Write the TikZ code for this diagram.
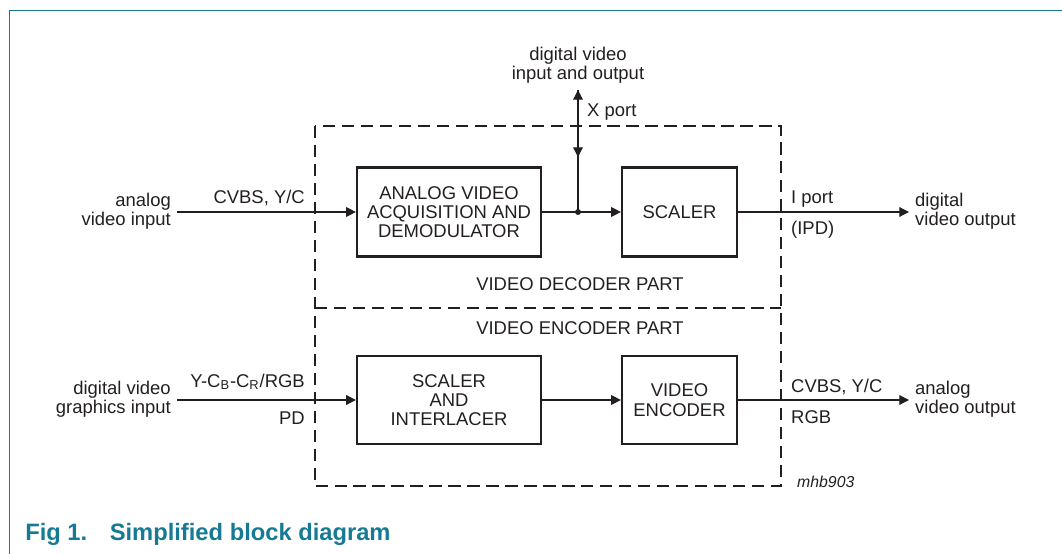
\documentclass[tikz,border=0pt]{standalone}
\usepackage{fontspec}
\setmainfont{Liberation Sans}
\usetikzlibrary{arrows.meta}
\definecolor{figteal}{RGB}{22,122,148}
\definecolor{ink}{RGB}{35,31,32}

\begin{document}
\begin{tikzpicture}[x=0.02cm,y=-0.02cm,
  every node/.style={text=ink},
  font=\fontsize{10.5}{11}\selectfont,
  block/.style={draw=ink,line width=1.3pt,align=center,inner sep=0pt},
  sig/.style={draw=ink,line width=0.7pt,-{Triangle[length=5.5pt,width=5.5pt]}},
  partbox/.style={draw=ink,line width=1.6pt,dash pattern=on 7pt off 3.8pt}]
\useasboundingbox (0,0) rectangle (1062,554);
\draw[figteal,line width=0.7pt] (9.5,554) -- (9.5,10.5) -- (1062,10.5);

% decoder / encoder parts
\draw[partbox] (315,126) rectangle (781,486);
\draw[partbox] (315,308) -- (781,308);
\node (decpart) at (580,284) {VIDEO DECODER PART};
\node (encpart) at (580,328) {VIDEO ENCODER PART};

% blocks
\node[block,minimum width=3.68cm,minimum height=1.78cm] (acq) at (449,212) {ANALOG VIDEO\\ACQUISITION AND\\DEMODULATOR};
\node[block,minimum width=2.3cm,minimum height=1.78cm] (scl) at (679.5,212) {SCALER};
\node[block,minimum width=3.68cm,minimum height=1.76cm] (sint) at (449,400) {SCALER\\AND\\INTERLACER};
\node[block,minimum width=2.3cm,minimum height=1.76cm] (venc) at (679.5,400) {VIDEO\\ENCODER};

% upper path
\node[anchor=east,align=right] (avin) at (177,211) {analog\\video input};
\node[anchor=base east] (cvin) at (311,203) {CVBS, Y/C};
\draw[sig] (avin.east |- acq.west) -- (acq.west);
\coordinate (jn) at (578,212);
\draw[sig] (acq.east) -- (scl.west);
\fill[ink] (jn) circle (1.7pt);
\node[anchor=south,align=center] (dvio) at (578,90) {digital video\\input and output};
\coordinate (xmid) at (578,157);
\draw[sig] (jn) -- (dvio.south);
\draw[sig] (dvio.south) -- (xmid);
\node[anchor=west] (xport) at (581,112) {X port};
\node[anchor=base west] (iport) at (785,203) {I port};
\node[anchor=base west] (ipd) at (785,235) {(IPD)};
\node[anchor=west,align=left] (dvout) at (909,211) {digital\\video output};
\draw[sig] (scl.east) -- (scl.east -| dvout.west);

% lower path
\node[anchor=east,align=right] (dgin) at (177,399) {digital video\\graphics input};
\node[anchor=base east] (ycbcr) at (311,387) {Y-C\textsubscript{B}-C\textsubscript{R}/RGB};
\node[anchor=base east] (pd) at (311,424) {PD};
\draw[sig] (dgin.east |- sint.west) -- (sint.west);
\draw[sig] (sint.east) -- (venc.west);
\node[anchor=base west] (cvout) at (785,392) {CVBS, Y/C};
\node[anchor=base west] (rgb) at (785,423) {RGB};
\node[anchor=west,align=left] (avout) at (909,399) {analog\\video output};
\draw[sig] (venc.east) -- (venc.east -| avout.west);

\node[anchor=base west,font=\fontsize{9}{10}\selectfont\itshape] (code) at (791,487) {mhb903};
\node[anchor=base west,inner sep=0pt,font=\fontsize{13.5}{15}\selectfont\bfseries,text=figteal] (cap) at (25,540) {Fig 1.\hspace{0.95em}Simplified block diagram};
\end{tikzpicture}
\end{document}
